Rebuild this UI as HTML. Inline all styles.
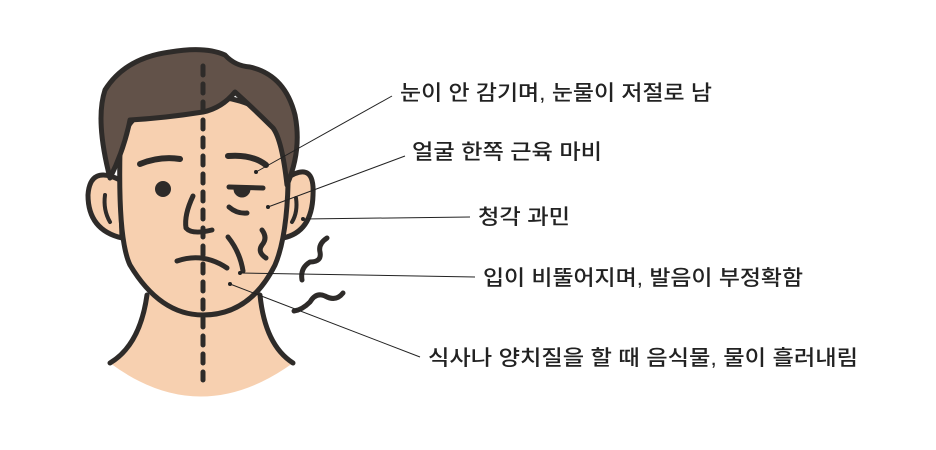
<!DOCTYPE html>
<html><head><meta charset="utf-8"><style>
html,body{margin:0;padding:0;background:#fff;width:936px;height:450px;overflow:hidden}
text{font-family:"Liberation Sans","Noto Sans CJK KR",sans-serif;font-size:21px;fill:#222;font-weight:500}
</style></head><body>
<svg width="936" height="450" viewBox="0 0 936 450" xmlns="http://www.w3.org/2000/svg">
<g stroke="#2e2b29" stroke-width="5" stroke-linecap="round" stroke-linejoin="round">
<path d="M147,295 Q140,345 110,363 Q200,430 293,363 Q265,345 260,295 Z" fill="#f7d0b0" stroke="none"/>
<path d="M147,295 Q140,345 110,363" fill="none"/>
<path d="M260,295 Q265,345 293,363" fill="none"/>
<path d="M120,180 Q90,165 88,195 Q88,230 122,238 Z" fill="#f7d0b0"/>
<path d="M287,178 Q315,160 313,195 Q312,232 283,238 Z" fill="#f7d0b0"/>
<path d="M105,195 Q103,210 110,222" fill="none" stroke-width="4"/>
<path d="M296,198 Q298,212 292,222" fill="none" stroke-width="4"/>
<path d="M120,150 Q118,240 130,265 Q160,315 203,315 Q250,315 275,265 Q290,230 288,150 Q280,100 203,95 Q125,100 120,150 Z" fill="#f7d0b0"/>
<path d="M110,178 Q95,120 105,90 Q125,58 170,52 Q205,46 225,55 Q235,66 250,67 Q285,75 295,115 Q302,150 287,185 Q282,140 273,128 Q255,110 235,92 Q222,108 203,112 Q165,118 130,120 Q124,150 110,178 Z" fill="#625249"/>
<path d="M140,164 Q160,156 180,159" fill="none" stroke-width="6"/>
<path d="M228,156 Q252,154 266,165" fill="none" stroke-width="6"/>
<circle cx="163" cy="189" r="8" fill="#2e2b29" stroke="none"/>
<path d="M229,187 L263,188" fill="none"/>
<path d="M236,189 A6,6 0 0 0 248,189 Z" fill="#2e2b29"/>
<path d="M229,207 Q237,214 247,213" fill="none"/>
<path d="M193,196 Q184,215 186,228 Q192,235 212,230" fill="none"/>
<path d="M177,261 Q203,252 227,268" fill="none"/>
<path d="M228,237 Q240,252 243,271" fill="none"/>
<path d="M262,230 Q268,238 262,245 Q257,252 266,258" fill="none"/>
<path d="M327,238 Q318,244 320,252 Q322,262 310,262 Q300,268 302,280" fill="none"/>
<path d="M343,293 Q336,302 325,296 Q316,292 310,302 Q302,310 294,311" fill="none"/>
</g>
<line x1="203" y1="66" x2="203" y2="380" stroke="#2e2b29" stroke-width="5" stroke-dasharray="9,9" stroke-linecap="round"/>
<g stroke="#222" stroke-width="1" fill="none">
<line x1="256" y1="172" x2="392" y2="96"/>
<line x1="268" y1="207" x2="405" y2="156"/>
<line x1="303" y1="219" x2="470" y2="217"/>
<line x1="240" y1="273" x2="475" y2="277"/>
<line x1="230" y1="284" x2="420" y2="357"/>
</g>
<g fill="#222">
<circle cx="256" cy="172" r="2"/><circle cx="268" cy="207" r="2"/><circle cx="303" cy="219" r="2"/><circle cx="240" cy="273" r="2"/><circle cx="230" cy="284" r="2"/>
</g>
<text x="400" y="100" textLength="312" lengthAdjust="spacingAndGlyphs">눈이 안 감기며, 눈물이 저절로 남</text>
<text x="412" y="159" textLength="190" lengthAdjust="spacingAndGlyphs">얼굴 한쪽 근육 마비</text>
<text x="478" y="224" textLength="92" lengthAdjust="spacingAndGlyphs">청각 과민</text>
<text x="483" y="285" textLength="320" lengthAdjust="spacingAndGlyphs">입이 비뚤어지며, 발음이 부정확함</text>
<text x="428" y="365" textLength="430" lengthAdjust="spacingAndGlyphs">식사나 양치질을 할 때 음식물, 물이 흘러내림</text>
</svg>
</body></html>
